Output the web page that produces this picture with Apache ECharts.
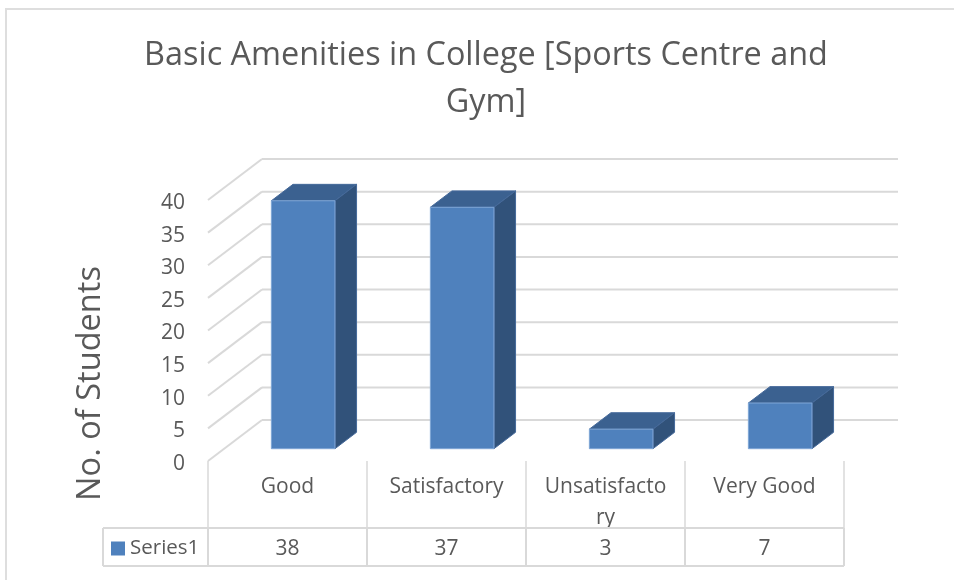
<!DOCTYPE html>
<html><head><meta charset="utf-8">
<style>html,body{margin:0;padding:0;background:#fff}#c{width:954px;height:580px}</style>
<script src="https://cdn.jsdelivr.net/npm/echarts@6/dist/echarts.min.js"></script>
</head><body><div id="c"></div>
<script>
const categories = ['Good', 'Satisfactory', 'Unsatisfactory', 'Very Good'];
const values = [38, 37, 3, 7];
const ticks = [0, 5, 10, 15, 20, 25, 30, 35, 40];
const seriesName = 'Series1';
const titleText = 'Basic Amenities in College [Sports Centre and\nGym]';
const yName = 'No. of Students';

const FONT = '"Open Sans", sans-serif';
const TXT = '#595959', GRID = '#D9D9D9';
const WALL = {dx: 54, dy: -41};
const BAR_F = 0.29, BAR_W = 0.4;
const TABLE = {top: 528, bottom: 566, left: 103};

const chart = echarts.init(document.getElementById('c'));
function ln(x1, y1, x2, y2, w) {
  return {type: 'line', shape: {x1, y1, x2, y2}, style: {stroke: GRID, lineWidth: w || 2}};
}
chart.setOption({
  animation: false,
  backgroundColor: '#fff',
  title: {text: titleText, left: 481, top: 27, textAlign: 'center',
    textStyle: {fontFamily: FONT, fontSize: 32.4, fontWeight: 400, color: TXT, lineHeight: 47}},
  legend: {data: [{name: seriesName, icon: 'rect'}], left: 111, top: 538, padding: 0, itemWidth: 14, itemHeight: 14, itemGap: 4,
    textStyle: {fontFamily: FONT, fontSize: 20.5, color: TXT}},
  grid: {left: 208, width: 636, top: 200, height: 261},
  xAxis: [
    {type: 'category', data: categories, position: 'bottom', axisLine: {show: false}, axisTick: {show: false},
     axisLabel: {interval: 0, margin: 11, fontFamily: FONT, fontSize: 21, color: TXT, lineHeight: 31, width: 124, overflow: 'breakAll'}},
    {type: 'category', data: values.map(String), position: 'bottom', offset: 78, axisLine: {show: false}, axisTick: {show: false},
     axisLabel: {interval: 0, margin: 0, fontFamily: FONT, fontSize: 21, color: TXT}}
  ],
  yAxis: {type: 'value', min: 0, max: 40, interval: 5, axisLine: {show: false}, axisTick: {show: false}, splitLine: {show: false},
    axisLabel: {margin: 23, formatter: '{a|{value}}', color: TXT,
      rich: {a: {fontFamily: FONT, fontSize: 21, color: TXT, padding: [6, 0, 0, 0]}}}},
  graphic: [
    {type: 'polyline', silent: true, shape: {points: [[6, 580], [6, 9], [954, 9]]}, style: {fill: 'none', stroke: '#DEDEDE', lineWidth: 2}, z: -1},
    {type: 'text', silent: true, x: 91, y: 383.5, rotation: Math.PI / 2,
     style: {text: yName, font: '400 32.6px ' + FONT, fill: TXT, textAlign: 'center', textVerticalAlign: 'middle'}}
  ],
  series: [
    {type: 'custom', name: 'walls', coordinateSystem: 'cartesian2d', data: ticks.map(t => [0, t]), silent: true, z: 1,
     renderItem(params, api) {
       const y = api.coord([0, api.value(1)])[1];
       const bw = api.size([1, 0])[0];
       const x0 = api.coord([0, 0])[0] - bw / 2;
       const x3 = x0 + bw * categories.length;
       return {type: 'group', children: [
         ln(x0, y, x0 + WALL.dx, y + WALL.dy),
         ln(x0 + WALL.dx, y + WALL.dy, x3 + WALL.dx, y + WALL.dy)
       ]};
     }},
    {type: 'custom', name: 'table', coordinateSystem: 'cartesian2d', data: [0, 1, 2, 3, 4].map(i => [i, 0]), silent: true, z: 1,
     renderItem(params, api) {
       const i = api.value(0);
       const bw = api.size([1, 0])[0];
       const x = api.coord([0, 0])[0] - bw / 2 + i * bw;
       const y0 = api.coord([0, 0])[1];
       const kids = [ln(x, y0, x, TABLE.top, 1.5), ln(x, TABLE.top, x, TABLE.bottom, 2)];
       if (i === 0) {
         const xr = x + bw * categories.length;
         kids.push(ln(TABLE.left, TABLE.top, xr, TABLE.top), ln(TABLE.left, TABLE.bottom, xr, TABLE.bottom), ln(TABLE.left, TABLE.top, TABLE.left, TABLE.bottom));
       }
       return {type: 'group', children: kids};
     }},
    {type: 'custom', name: seriesName, coordinateSystem: 'cartesian2d', itemStyle: {color: '#4F81BD'}, z: 3,
     data: values.map((v, i) => [i, v]),
     renderItem(params, api) {
       const p = api.coord([api.value(0), api.value(1)]);
       const b = api.coord([api.value(0), 0]);
       const bw = api.size([1, 0])[0];
       const ox = WALL.dx * BAR_F, oy = WALL.dy * 0.3;
       const hw = bw * 0.2;
       const l = b[0] + ox - hw, r = b[0] + ox + hw;
       const bot = b[1] + oy, top = p[1] + oy;
       const dx = WALL.dx * BAR_W, dy = WALL.dy * BAR_W;
       const poly = (pts, fill, stroke) => ({type: 'polygon', shape: {points: pts}, style: {fill, stroke, lineWidth: 1}});
       return {type: 'group', children: [
         poly([[l, top], [r, top], [r + dx, top + dy], [l + dx, top + dy]], '#3B6190', '#45699A'),
         poly([[r, top], [r + dx, top + dy], [r + dx, bot + dy], [r, bot]], '#31527A', '#45699A'),
         poly([[l, top], [r, top], [r, bot], [l, bot]], '#4F81BD', '#7FA6D6')
       ]};
     }}
  ]
});
</script></body></html>
